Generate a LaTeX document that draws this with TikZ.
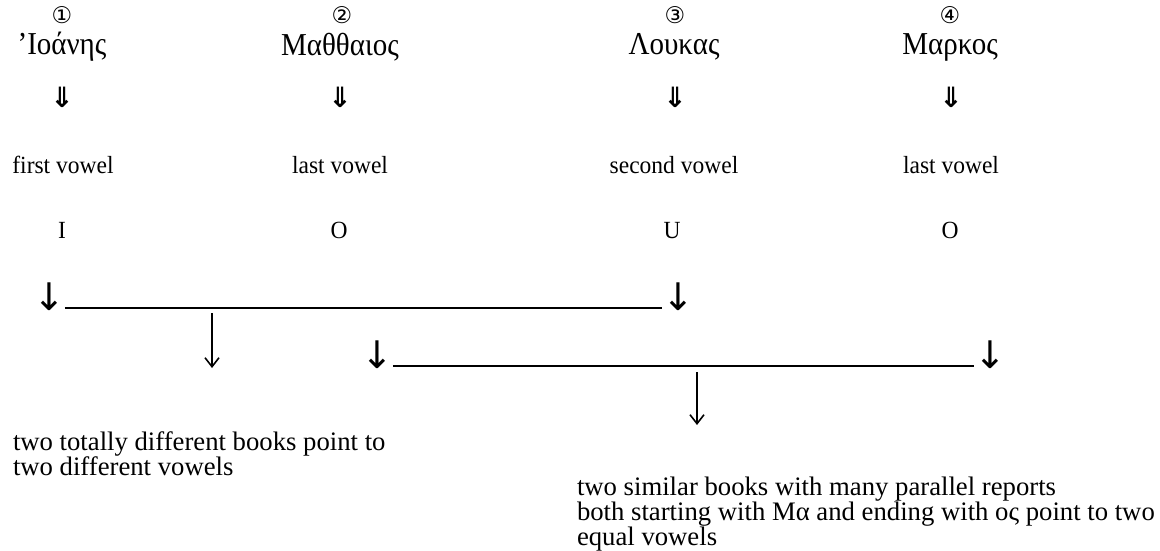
\documentclass[tikz,border=0pt]{standalone}
\usepackage{fontspec}
\setmainfont{Liberation Serif}
\newfontfamily\symfont{DejaVu Sans}
\newfontfamily\symbold{DejaVu Sans Bold}
\usetikzlibrary{arrows.meta}
\begin{document}
\begin{tikzpicture}[x=1pt,y=-1pt,
  every node/.style={inner sep=0pt,outer sep=0pt},
  hdnum/.style={font=\symfont\fontsize{23}{26}\selectfont},
  grk/.style={font=\fontsize{29}{34}\selectfont,yscale=1.1},
  dblarrow/.style={font=\symbold\fontsize{28}{32}\selectfont},
  labeltext/.style={font=\fontsize{23.5}{27}\selectfont,yscale=1.05},
  vowel/.style={labeltext,anchor=base},
  tiparrow/.style={font=\symfont\fontsize{38}{42}\selectfont},
  underbar/.style={line width=1.3pt},
  longarrow/.style={line width=1.6pt,-{Straight Barb[length=9pt,width=14pt,line width=1.6pt]}},
  paraline/.style={font=\fontsize{26.7}{27}\selectfont,anchor=base west}]
\useasboundingbox (0,0) rectangle (1160,551);

% column headings
\node[hdnum] (n1) at (62,15) {①};
\node[hdnum] (n2) at (342,15) {②};
\node[hdnum] (n3) at (675,15) {③};
\node[hdnum] (n4) at (950,15) {④};

\node[grk] (g1) at (62,47) {ʼΙοάνης};
\node[grk] (g2) at (340,47) {Μαθθαιος};
\node[grk] (g3) at (674,47) {Λουκας};
\node[grk] (g4) at (950,47) {Μαρκος};

\node[dblarrow] (d1) at (62,97) {⇓};
\node[dblarrow] (d2) at (340,97) {⇓};
\node[dblarrow] (d3) at (675,97) {⇓};
\node[dblarrow] (d4) at (951,97) {⇓};

\node[labeltext] (r1) at (63,165) {first vowel};
\node[labeltext] (r2) at (340,165) {last vowel};
\node[labeltext] (r3) at (674,165) {second vowel};
\node[labeltext] (r4) at (951,165) {last vowel};

\node[vowel] (v1) at (62,238) {I};
\node[vowel] (v2) at (339,238) {O};
\node[vowel] (v3) at (672,238) {U};
\node[vowel] (v4) at (950,238) {O};

% first pairing: Ioanes and Loukas
\node[tiparrow] (a1) at (49,297) {↓};
\node[tiparrow] (a3) at (678,297) {↓};
\draw[underbar] ([yshift=3pt]a1.south east) -- ([yshift=3pt]a3.south west);
\coordinate (m1) at (212,313);
\coordinate (e1) at (212,368);
\draw[longarrow] (m1) -- (e1);

% second pairing: Matthaios and Markos
\node[tiparrow] (a2) at (377,355) {↓};
\node[tiparrow] (a4) at (990,355) {↓};
\draw[underbar] ([yshift=3pt]a2.south east) -- ([yshift=3pt]a4.south west);
\coordinate (m2) at (697,372);
\coordinate (e2) at (697,425);
\draw[longarrow] (m2) -- (e2);

% conclusions
\node[paraline] (t1a) at (13,450) {two totally different books point to};
\node[paraline] (t1b) at (13,475) {two different vowels};
\node[paraline] (t2a) at (577,495) {two similar books with many parallel reports};
\node[paraline] (t2b) at (577,520) {both starting with Μα and ending with ος point to two};
\node[paraline] (t2c) at (577,545) {equal vowels};
\end{tikzpicture}
\end{document}
